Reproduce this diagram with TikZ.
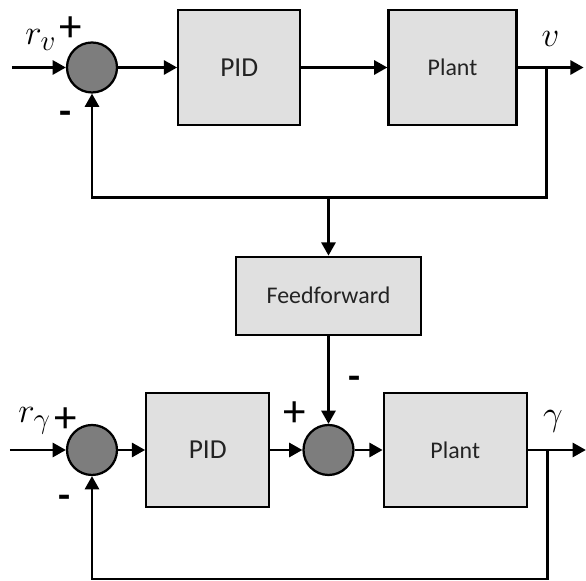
\documentclass[tikz,border=0pt]{standalone}
\usepackage{fontspec}
\setsansfont{Carlito}
\usetikzlibrary{arrows.meta, positioning}
\definecolor{blkfill}{RGB}{224,224,224}
\definecolor{sumgray}{RGB}{125,125,125}
\definecolor{txtgray}{RGB}{35,35,35}

\begin{document}
\begin{tikzpicture}[node distance=1cm,
  box/.style={rectangle, draw=black, line width=1.6pt, fill=blkfill, minimum height=2.875cm, align=center, text=txtgray, font=\sffamily\fontsize{17}{20}\selectfont},
  pidbox/.style={box, font=\sffamily\fontsize{19.5}{22}\selectfont},
  junc/.style={circle, draw=black, line width=1.6pt, fill=sumgray, minimum size=1.25cm, inner sep=0pt},
  sign/.style={font=\sffamily\fontsize{32}{32}\selectfont, inner sep=0pt},
  minus/.style={font=\sffamily\bfseries\fontsize{28}{28}\selectfont, inner sep=0pt},
  sym/.style={font=\fontsize{30}{33}\selectfont, inner sep=0pt, anchor=base west},
  arr/.style={-{Triangle[length=3.3mm, width=3.5mm]}, line width=2pt}
]
\useasboundingbox (0,0) rectangle (14.65,14.525);
% velocity loop
\node[junc] (sumA) at (2.3,12.8375) {};
\node[pidbox, minimum width=3.05cm, right=1.475cm of sumA] (pidA) {PID};
\node[box, minimum width=3.2cm, right=2.15cm of pidA] (plantA) {Plant};
\coordinate[left=1.35cm of sumA] (inA);
\coordinate[right=1.65cm of plantA] (outA);
\coordinate[right=0.725cm of plantA] (brA);
\coordinate[below=3.25cm of brA] (fbA);
% yaw loop
\node[junc] (sumB) at (2.3,3.275) {};
\node[pidbox, minimum width=3.075cm, minimum height=2.85cm, right=0.675cm of sumB] (pidB) {PID};
\node[junc, right=0.8cm of pidB] (sumC) {};
\node[box, minimum width=3.575cm, minimum height=2.85cm, right=0.7cm of sumC] (plantB) {Plant};
\node[box, minimum width=4.625cm, minimum height=1.95cm, above=2.2cm of sumC] (ff) {Feedforward};
\coordinate[left=1.4cm of sumB] (inB);
\coordinate[right=1.45cm of plantB] (outB);
\coordinate[right=0.5cm of plantB] (brB);
\coordinate[below=3.225cm of brB] (fbB);

\draw[arr] (inA) -- (sumA);
\draw[arr] (sumA) -- (pidA);
\draw[arr] (pidA) -- (plantA);
\draw[arr] (plantA) -- (outA);
\draw[arr] (brA) -- (fbA) -| (sumA);
\draw[arr] (ff.north |- fbA) -- (ff);
\draw[arr] (ff) -- (sumC);
\draw[arr] (inB) -- (sumB);
\draw[arr] (sumB) -- (pidB);
\draw[arr] (pidB) -- (sumC);
\draw[arr] (sumC) -- (plantB);
\draw[arr] (plantB) -- (outB);
\draw[arr] (brB) -- (fbB) -| (sumB);
% Labels
\node[sign] at ([shift={(-0.525,0.9625)}]sumA.center) {+};
\node[minus] at ([shift={(-0.65,-1.2625)}]sumA.center) {-};
\node[sign] at ([shift={(-0.66,0.75)}]sumB.center) {+};
\node[minus] at ([shift={(-0.675,-1.3)}]sumB.center) {-};
\node[sign] at ([shift={(-0.85,0.9)}]sumC.center) {+};
\node[minus] at ([shift={(0.65,1.675)}]sumC.center) {-};
\node[sym] at ([shift={(-1.675,0.5625)}]sumA.center) {$r_v$};
\node[sym, anchor=base] at ([shift={(0.825,0.5125)}]plantA.east) {$v$};
\node[sym] at ([shift={(-1.85,0.675)}]sumB.center) {$r_\gamma$};
\node[sym, anchor=base] at ([shift={(0.625,0.6)}]plantB.east) {$\gamma$};
\end{tikzpicture}
\end{document}
